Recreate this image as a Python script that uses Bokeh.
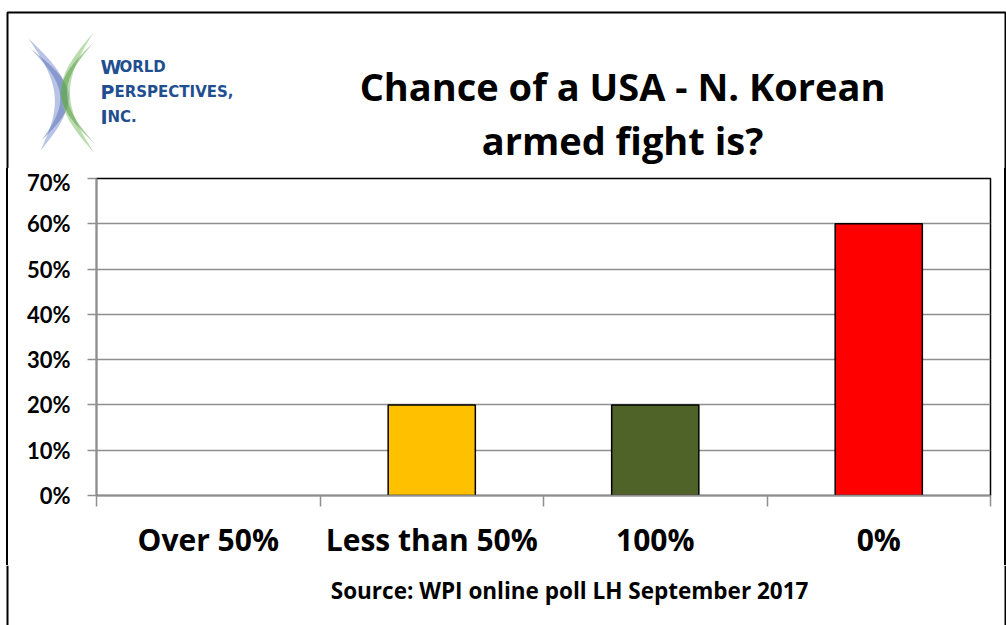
import numpy as np
from bokeh.plotting import figure
from bokeh.layouts import column, row
from bokeh.models import (Range1d, FixedTicker, NumeralTickFormatter, ColumnDataSource, Spacer)
from bokeh.core.properties import value
from bokeh.embed import file_html
from bokeh.resources import INLINE

# ---- data ----
categories = ["Over 50%", "Less than 50%", "100%", "0%"]
values = [0.0, 0.20, 0.20, 0.60]
bar_colors = ["#4472C4", "#FFC000", "#4F6228", "#FF0000"]
y_ticks = [0.0, 0.1, 0.2, 0.3, 0.4, 0.5, 0.6, 0.7]
title_lines = ["Chance of a USA - N. Korean", "armed fight is?"]
source_text = "Source:  WPI online poll LH September 2017"
logo_big = ["W", "P", "I"]
logo_small = ["ORLD", "ERSPECTIVES,", "NC."]

# ---- layout geometry (canvas pixels) ----
W, H = 1006, 625
HEAD_H = 168          # header strip height
FOOT_Y = 565          # footer starts here
LX, RX = 9, 1003      # chart figure spans LX..RX
FL, FT, FR, FB = 96, 178, 990, 495  # plot frame edges
BORDER_L, BORDER_R, BORDER_T = 7, 1005, 12


def canvas_fig(x0, x1, y0, y1):
    """A decoration figure whose data units are canvas pixels (y down)."""
    f = figure(width=x1 - x0, height=y1 - y0, output_backend="svg",
               toolbar_location=None, x_range=Range1d(x0, x1),
               y_range=Range1d(y1, y0), x_axis_type=None, y_axis_type=None,
               min_border=0, min_border_left=0, min_border_right=0,
               min_border_top=0, min_border_bottom=0)
    f.outline_line_color = None
    f.background_fill_color = "white"
    f.border_fill_color = "white"
    return f


def vline_strip(width, height, pos):
    # thin black vertical border line drawn as the strip's background
    grad = (f"linear-gradient(to right, white {pos - 1}px, black {pos - 1}px, "
            f"black {pos + 1}px, white {pos + 1}px)")
    return Spacer(width=width, height=height, styles={"background": grad})


# ---------- header ----------
head = canvas_fig(0, W, 0, HEAD_H)
head.line([BORDER_L, BORDER_L, BORDER_R, BORDER_R],
          [HEAD_H, BORDER_T, BORDER_T, HEAD_H], line_color="black", line_width=2)


def crescent(tip_x0, tip_x1, y0, y1, bulge_a, bulge_b, n=50):
    yy = np.linspace(y0, y1, n)
    t = (yy - y0) / (y1 - y0)
    base = tip_x0 + (tip_x1 - tip_x0) * t
    s = np.sin(np.pi * t)
    xa = base + bulge_a * s
    xb = base + bulge_b * s
    return np.concatenate([xa, xb[::-1]]), np.concatenate([yy, yy[::-1]])

# blue ")" crescent
bx, by = crescent(28, 40, 38, 150, 20, 33)
head.patch(bx, by, fill_color="#7d92cf", fill_alpha=0.55, line_alpha=0)
bx2, by2 = crescent(30, 41, 48, 140, 24, 33)
head.patch(bx2, by2, fill_color="#4e67b0", fill_alpha=0.45, line_alpha=0)
# green "(" crescent
gx, gy = crescent(93, 94, 32, 153, -33, -24)
head.patch(gx, gy, fill_color="#8cc47a", fill_alpha=0.6, line_alpha=0)
gx2, gy2 = crescent(93, 94, 42, 143, -33, -27)
head.patch(gx2, gy2, fill_color="#4f9a3c", fill_alpha=0.5, line_alpha=0)

logo_blue = "#1f4f8f"
big_w = {"W": 19, "P": 14, "I": 7}
for big, small, yy in zip(logo_big, logo_small, [66, 91, 116]):
    head.text(x=[100], y=[yy], text=[big], text_font=value("DejaVu Sans"),
              text_font_style="bold", text_font_size="19px",
              text_color=logo_blue, text_align="left", text_baseline="alphabetic")
    head.text(x=[100 + big_w[big]], y=[yy], text=[small],
              text_font=value("DejaVu Sans"), text_font_style="bold",
              text_font_size="15px", text_color=logo_blue,
              text_align="left", text_baseline="alphabetic")

for line, yy in zip(title_lines, [85, 139]):
    head.text(x=[622], y=[yy], text=[line], text_font=value("Open Sans"),
              text_font_style="bold", text_font_size="38px", text_color="black",
              text_align="center", text_baseline="alphabetic")

# ---------- side strips ----------
lstrip = vline_strip(LX, FOOT_Y - HEAD_H, BORDER_L)
rstrip = vline_strip(W - RX, FOOT_Y - HEAD_H, BORDER_R - RX)

# ---------- chart ----------
p = figure(width=RX - LX, height=FOOT_Y - HEAD_H, output_backend="svg",
           toolbar_location=None,
           x_range=Range1d(0, len(categories)), y_range=Range1d(0, 0.7),
           min_border_left=FL - LX, min_border_right=RX - FR,
           min_border_top=FT - HEAD_H, min_border_bottom=FOOT_Y - FB,
           background_fill_color="white", border_fill_color="white")
p.outline_line_color = "black"
p.outline_line_width = 1.5

xs = [i + 0.5 for i in range(len(categories))]
keep = [i for i, v in enumerate(values) if v > 0]
src = ColumnDataSource(dict(x=[xs[i] for i in keep], top=[values[i] for i in keep],
                            color=[bar_colors[i] for i in keep]))
p.vbar(x="x", top="top", bottom=0, width=0.39, source=src, fill_color="color",
       line_color="black", line_width=1.5)

p.xgrid.grid_line_color = None
p.ygrid.grid_line_color = "#8f8f8f"
p.ygrid.grid_line_width = 1.5
p.ygrid.ticker = FixedTicker(ticks=y_ticks)

ya = p.yaxis[0]
ya.ticker = FixedTicker(ticks=y_ticks)
ya.formatter = NumeralTickFormatter(format="0%")
ya.axis_line_color = "#8f8f8f"
ya.axis_line_width = 1.5
ya.major_tick_line_color = "#8f8f8f"
ya.major_tick_line_width = 1.5
ya.major_tick_out = 9
ya.major_tick_in = 0
ya.minor_tick_line_color = None
ya.major_label_standoff = 17
ya.major_label_text_font = "Lato"
ya.major_label_text_font_style = "bold"
ya.major_label_text_font_size = "22px"
ya.major_label_text_color = "black"

xa = p.xaxis[0]
xa.ticker = FixedTicker(ticks=xs, minor_ticks=list(range(len(categories) + 1)))
xa.major_label_overrides = {x: c for x, c in zip(xs, categories)}
xa.axis_line_color = "#8f8f8f"
xa.axis_line_width = 1.5
xa.major_tick_line_color = None
xa.major_tick_out = 0
xa.major_tick_in = 0
xa.minor_tick_line_color = "#8f8f8f"
xa.minor_tick_line_width = 1.5
xa.minor_tick_out = 11
xa.minor_tick_in = 0
xa.major_label_standoff = 12
xa.major_label_text_font = "Open Sans"
xa.major_label_text_font_style = "bold"
xa.major_label_text_font_size = "30px"
xa.major_label_text_color = "black"

# ---------- footer ----------
foot = canvas_fig(0, W, FOOT_Y, H)
foot.line([BORDER_L, BORDER_L], [FOOT_Y, H], line_color="black", line_width=2)
foot.line([BORDER_R, BORDER_R], [FOOT_Y, H], line_color="black", line_width=2)
foot.text(x=[572], y=[590], text=[source_text], text_font=value("Open Sans"),
          text_font_style="bold", text_font_size="22.5px", text_color="black",
          text_align="center", text_baseline="alphabetic")

layout = column(head, row(lstrip, p, rstrip, spacing=0), foot, spacing=0)
open("out.html", "w").write(file_html(layout, INLINE))
